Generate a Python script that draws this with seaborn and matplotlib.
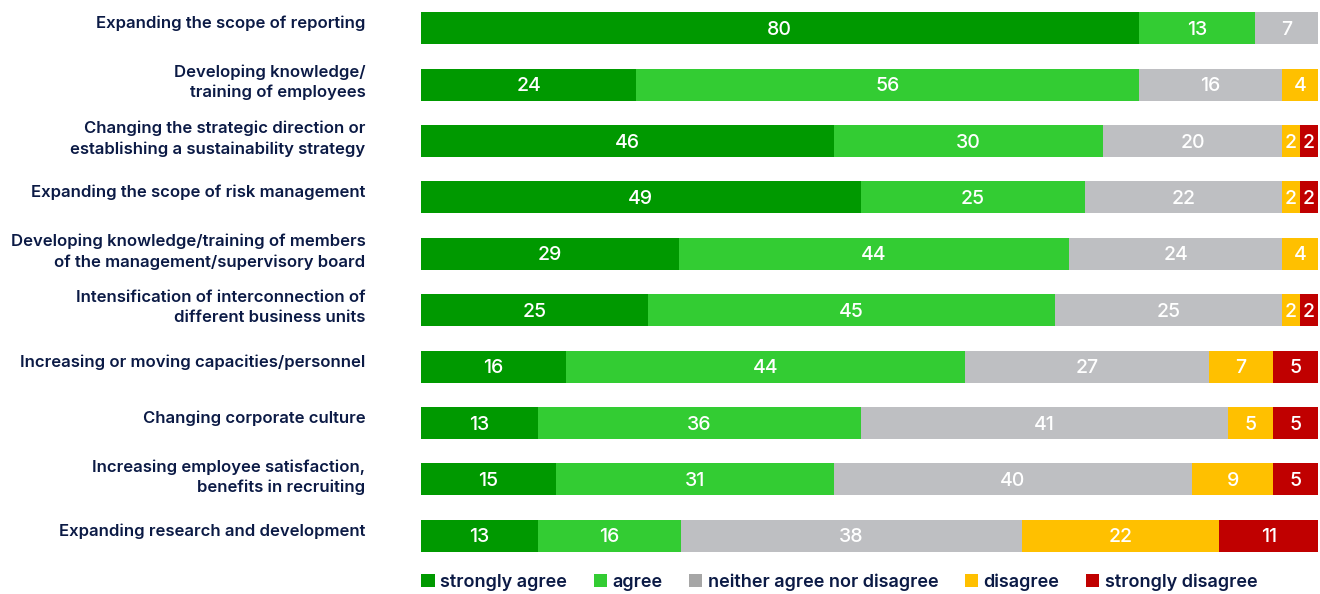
import matplotlib
matplotlib.use("Agg")
import matplotlib.pyplot as plt
import matplotlib.transforms as mtrans
import numpy as np
import pandas as pd
import seaborn as sb
from matplotlib.patches import Patch

# Survey: measures taken, share of answers per category (in %)
categories = [
    "Expanding the scope of reporting",
    "Developing knowledge/\ntraining of employees",
    "Changing the strategic direction or\nestablishing a sustainability strategy",
    "Expanding the scope of risk management",
    "Developing knowledge/training of members\nof the management/supervisory board",
    "Intensification of interconnection of\ndifferent business units",
    "Increasing or moving capacities/personnel",
    "Changing corporate culture",
    "Increasing employee satisfaction,\nbenefits in recruiting",
    "Expanding research and development",
]
strongly_agree = [80, 24, 46, 49, 29, 25, 16, 13, 15, 13]
agree = [13, 56, 30, 25, 44, 45, 44, 36, 31, 16]
neither = [7, 16, 20, 22, 24, 25, 27, 41, 40, 38]
disagree = [0, 4, 2, 2, 4, 2, 7, 5, 9, 22]
strongly_disagree = [0, 0, 2, 2, 0, 2, 5, 5, 5, 11]

series_names = ["strongly agree", "agree", "neither agree nor disagree",
                "disagree", "strongly disagree"]
colors = ["#009900", "#33cc33", "#bebfc2", "#ffc000", "#c00000"]
legend_colors = ["#009900", "#33cc33", "#a6a6a6", "#ffc000", "#c00000"]
navy = "#0b1a45"

df = pd.DataFrame({
    "category": categories,
    "strongly agree": strongly_agree,
    "agree": agree,
    "neither agree nor disagree": neither,
    "disagree": disagree,
    "strongly disagree": strongly_disagree,
})
vals = df[series_names].to_numpy(dtype=float)
# bars are drawn to full width (rounded values don't always add to 100)
share = vals / vals.sum(axis=1, keepdims=True) * 100
cum = share.cumsum(axis=1)

sb.set_style("white")
plt.rcParams["font.family"] = ["Inter", "DejaVu Sans"]

fig = plt.figure(figsize=(13.2, 5.94), dpi=100)
ax = fig.add_axes([0.319, 0.0505, 0.6795, 0.9495])

# stacked look: draw cumulative totals from the last series to the first
for i in range(len(series_names) - 1, -1, -1):
    sb.barplot(x=cum[:, i], y=categories, order=categories, orient="h",
               color=colors[i], width=0.57, linewidth=0, saturation=1,
               ax=ax)

for r in range(len(categories)):
    for i in range(len(series_names)):
        if vals[r, i] <= 0:
            continue
        ax.text(cum[r, i] - share[r, i] / 2, r + 0.03, f"{int(vals[r, i])}",
                ha="center", va="center", color="white", fontsize=14,
                fontweight="medium")

ax.set_xlim(0, 100)
ax.set_ylim(len(categories) - 0.5, -0.5)
ax.set_xlabel("")
ax.set_ylabel("")
ax.set_xticks([])
ax.tick_params(axis="y", length=0, pad=40)
shift = mtrans.ScaledTranslation(0, 4.5 / 72, fig.dpi_scale_trans)
for lab in ax.get_yticklabels():
    lab.set_color(navy)
    lab.set_fontsize(12)
    lab.set_fontweight("semibold")
    lab.set_horizontalalignment("right")
    lab.set_linespacing(1.4)
    lab.set_transform(lab.get_transform() + shift)
sb.despine(ax=ax, left=True, bottom=True)

handles = [Patch(facecolor=c, edgecolor="none") for c in legend_colors]
leg = fig.legend(handles, series_names, loc="lower left",
                 bbox_to_anchor=(0.307, -0.022), ncol=5, frameon=False,
                 handlelength=0.75, handleheight=0.75, handletextpad=0.3,
                 columnspacing=1.45, prop={"size": 13, "weight": "semibold"})
for t in leg.get_texts():
    t.set_color(navy)

fig.savefig("out.png", dpi=100)
